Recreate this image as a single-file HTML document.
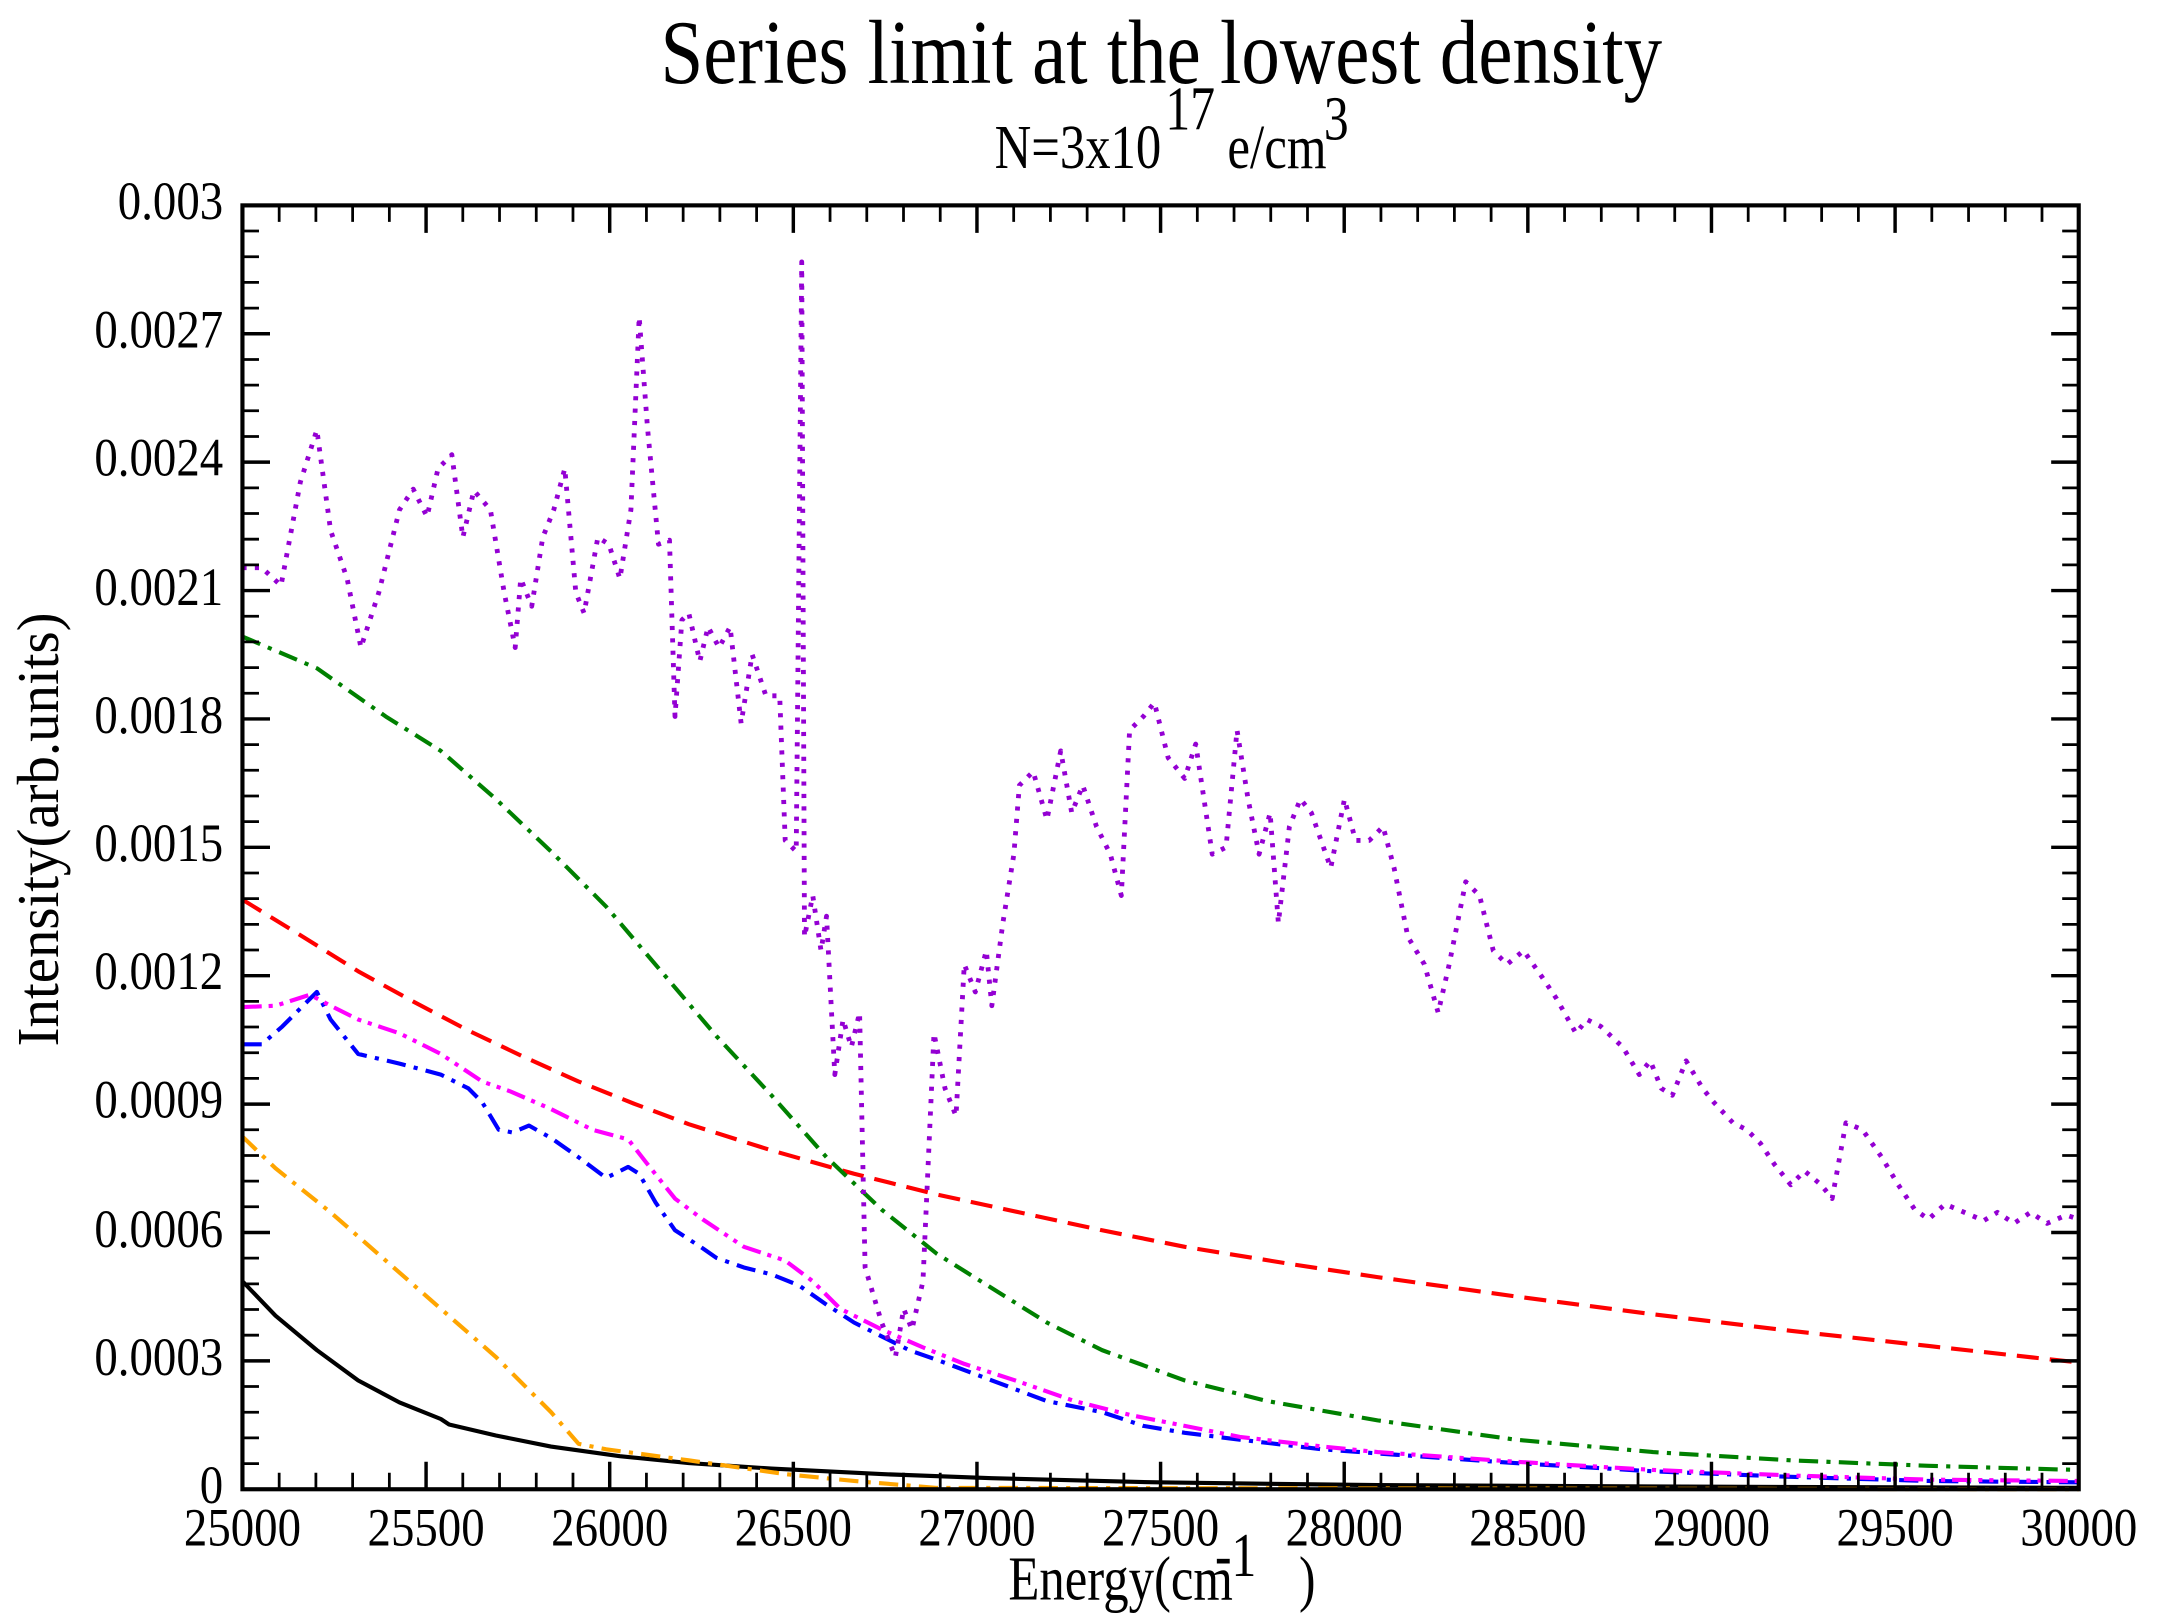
<!DOCTYPE html>
<html><head><meta charset="utf-8"><style>html,body{margin:0;padding:0;background:#fff}svg{display:block}</style></head>
<body>
<svg xmlns="http://www.w3.org/2000/svg" width="2160" height="1623" viewBox="0 0 1568 1178" font-family="Liberation Serif, serif">
<rect width="1568" height="1178" fill="#fff"/>
<g fill="none" stroke-width="3" stroke-linejoin="round">
<polyline stroke="#000" stroke-width="3" points="176,930 200,955 230,980 260,1002 290,1018 320,1030 326,1034 360,1042 400,1050 450,1057 500,1062 560,1066 640,1070 720,1073 840,1076 1000,1078 1200,1079 1509,1080"/>
<polyline stroke="#ff0000" stroke-dasharray="16,8" points="176,653 220,680 260,705 300,727 340,748 380,767 420,785 460,801 500,816 560,835 620,852 680,867 740,880 800,893 860,905 940,918 1000,927 1100,941 1200,954 1300,966 1400,977 1509,989"/>
<polyline stroke="#008000" stroke-dasharray="14,6,3,6" points="176,462 230,485 280,520 320,545 360,580 400,618 440,658 480,705 520,752 560,795 600,840 640,878 680,910 720,935 760,960 800,980 860,1002 920,1017 1000,1031 1100,1045 1200,1054 1300,1060 1400,1064 1509,1067"/>
<polyline stroke="#0000ff" stroke-dasharray="14,6,3,6" points="176,758 190,758 205,745 220,730 230,720 240,740 260,765 290,772 320,780 340,790 350,800 362,820 372,822 384,817 400,826 420,840 440,855 456,847 464,852 476,873 490,893 510,906 520,913 540,920 560,925 580,933 600,947 620,960 640,970 660,980 680,987 720,1002 760,1017 800,1025 830,1035 860,1040 900,1045 960,1052 1000,1055 1100,1062 1200,1068 1300,1072 1400,1075 1509,1076"/>
<polyline stroke="#ff00ff" stroke-dasharray="14,5,3,5,3,5" points="176,731 200,730 225,722 240,730 260,740 290,750 320,765 350,785 370,792 400,805 430,820 456,827 470,845 490,870 510,885 540,905 570,915 590,930 610,950 640,965 670,978 700,990 740,1003 780,1017 820,1027 860,1035 900,1043 960,1050 1000,1054 1100,1061 1200,1067 1300,1071 1400,1074 1509,1075"/>
<polyline stroke="#ffa500" stroke-dasharray="14,6,3,6" points="176,825 200,848 240,880 280,915 320,950 360,985 400,1025 420,1048 440,1052 500,1060 570,1070 620,1075 680,1080 1509,1081"/>
<polyline stroke="#9400d3" stroke-width="3.5" stroke-dasharray="3,6" points="176,412 190,412 204,425 218,350 230,312 240,385 252,420 262,470 275,430 290,370 300,355 310,375 318,340 328,330 336,390 344,356 356,370 366,430 374,470 378,420 386,440 394,390 402,370 410,340 418,430 424,445 434,390 442,395 450,420 458,370 464,230 470,310 478,395 486,392 490,520 495,450 500,445 508,480 514,455 522,470 530,455 538,525 546,475 556,505 566,505 570,610 578,618 582,190 584,680 590,650 596,690 600,665 606,780 612,740 618,760 624,735 628,920 640,960 650,985 656,950 662,965 670,930 678,750 686,790 694,810 700,700 708,720 716,690 720,730 728,670 736,620 740,570 750,560 760,595 770,545 778,590 786,570 796,600 806,620 814,650 820,530 830,520 838,510 848,550 860,565 868,540 880,620 890,615 898,530 906,580 914,620 922,590 928,670 936,600 944,580 952,590 966,630 976,580 984,610 994,610 1004,600 1012,630 1022,680 1034,700 1044,735 1052,700 1064,640 1074,650 1084,690 1094,700 1106,690 1120,710 1130,725 1144,750 1152,740 1162,745 1178,760 1190,780 1198,770 1206,790 1214,795 1224,770 1236,790 1244,800 1258,815 1268,820 1278,830 1288,845 1300,860 1310,850 1322,860 1330,870 1340,815 1352,820 1366,840 1378,860 1390,878 1400,885 1412,874 1426,880 1440,886 1450,880 1462,888 1474,880 1486,888 1500,882 1509,885"/>
</g>
<rect x="176" y="149" width="1333" height="932" fill="none" stroke="#000" stroke-width="3"/>
<g stroke="#000" stroke-width="2.5" fill="none">
<path d="
M176,1081v-20 M309.3,1081v-20 M442.6,1081v-20 M575.9,1081v-20 M709.2,1081v-20 M842.5,1081v-20 M975.8,1081v-20 M1109.1,1081v-20 M1242.4,1081v-20 M1375.7,1081v-20 M1509,1081v-20
M176,149v20 M309.3,149v20 M442.6,149v20 M575.9,149v20 M709.2,149v20 M842.5,149v20 M975.8,149v20 M1109.1,149v20 M1242.4,149v20 M1375.7,149v20 M1509,149v20
M176,1081h20 M176,987.8h20 M176,894.6h20 M176,801.4h20 M176,708.2h20 M176,615h20 M176,521.8h20 M176,428.6h20 M176,335.4h20 M176,242.2h20 M176,149h20
M1509,1081h-20 M1509,987.8h-20 M1509,894.6h-20 M1509,801.4h-20 M1509,708.2h-20 M1509,615h-20 M1509,521.8h-20 M1509,428.6h-20 M1509,335.4h-20 M1509,242.2h-20 M1509,149h-20"/>
</g>
<g id="minor" stroke="#000" stroke-width="2" fill="none"></g>
<script>
(function(){var g=document.getElementById('minor'),d='';
for(var i=0;i<=50;i++){if(i%5==0)continue;var x=176+i*1333/50;d+='M'+x+',1081v-12 M'+x+',149v12 ';}
for(var j=0;j<=50;j++){if(j%5==0)continue;var y=1081-j*932/50;d+='M176,'+y+'h12 M1509,'+y+'h-12 ';}
var p=document.createElementNS('http://www.w3.org/2000/svg','path');p.setAttribute('d',d);g.appendChild(p);})();
</script>
<g font-size="34" fill="#000" text-anchor="end">
<text transform="translate(162,1091) scale(1,1.15)">0</text>
<text transform="translate(162,998) scale(1,1.15)">0.0003</text>
<text transform="translate(162,905) scale(1,1.15)">0.0006</text>
<text transform="translate(162,811) scale(1,1.15)">0.0009</text>
<text transform="translate(162,718) scale(1,1.15)">0.0012</text>
<text transform="translate(162,625) scale(1,1.15)">0.0015</text>
<text transform="translate(162,532) scale(1,1.15)">0.0018</text>
<text transform="translate(162,439) scale(1,1.15)">0.0021</text>
<text transform="translate(162,345) scale(1,1.15)">0.0024</text>
<text transform="translate(162,252) scale(1,1.15)">0.0027</text>
<text transform="translate(162,159) scale(1,1.15)">0.003</text>
</g>
<g font-size="34" fill="#000" text-anchor="middle">
<text transform="translate(176,1122) scale(1,1.15)">25000</text>
<text transform="translate(309.3,1122) scale(1,1.15)">25500</text>
<text transform="translate(442.6,1122) scale(1,1.15)">26000</text>
<text transform="translate(575.9,1122) scale(1,1.15)">26500</text>
<text transform="translate(709.2,1122) scale(1,1.15)">27000</text>
<text transform="translate(842.5,1122) scale(1,1.15)">27500</text>
<text transform="translate(975.8,1122) scale(1,1.15)">28000</text>
<text transform="translate(1109.1,1122) scale(1,1.15)">28500</text>
<text transform="translate(1242.4,1122) scale(1,1.15)">29000</text>
<text transform="translate(1375.7,1122) scale(1,1.15)">29500</text>
<text transform="translate(1509,1122) scale(1,1.15)">30000</text>
</g>
<text transform="translate(843,60) scale(1,1.2)" font-size="55" text-anchor="middle" textLength="727" lengthAdjust="spacingAndGlyphs">Series limit at the lowest density</text>
<g font-size="36" fill="#000">
<text transform="translate(722,122) scale(1,1.25)" textLength="121" lengthAdjust="spacingAndGlyphs">N=3x10</text>
<text transform="translate(846,94) scale(1,1.25)">17</text>
<text transform="translate(891,122) scale(1,1.25)" textLength="72" lengthAdjust="spacingAndGlyphs">e/cm</text>
<text transform="translate(961,101) scale(1,1.25)">3</text>
<text transform="translate(732,1161) scale(1,1.25)" textLength="163" lengthAdjust="spacingAndGlyphs">Energy(cm</text>
<text transform="translate(882,1144) scale(1,1.25)">-1</text>
<text transform="translate(943,1161) scale(1,1.25)">)</text>
</g>
<text transform="translate(42,602) rotate(-90) scale(1,1.2)" font-size="36" text-anchor="middle" textLength="315" lengthAdjust="spacingAndGlyphs">Intensity(arb.units)</text>
</svg>
</body></html>
